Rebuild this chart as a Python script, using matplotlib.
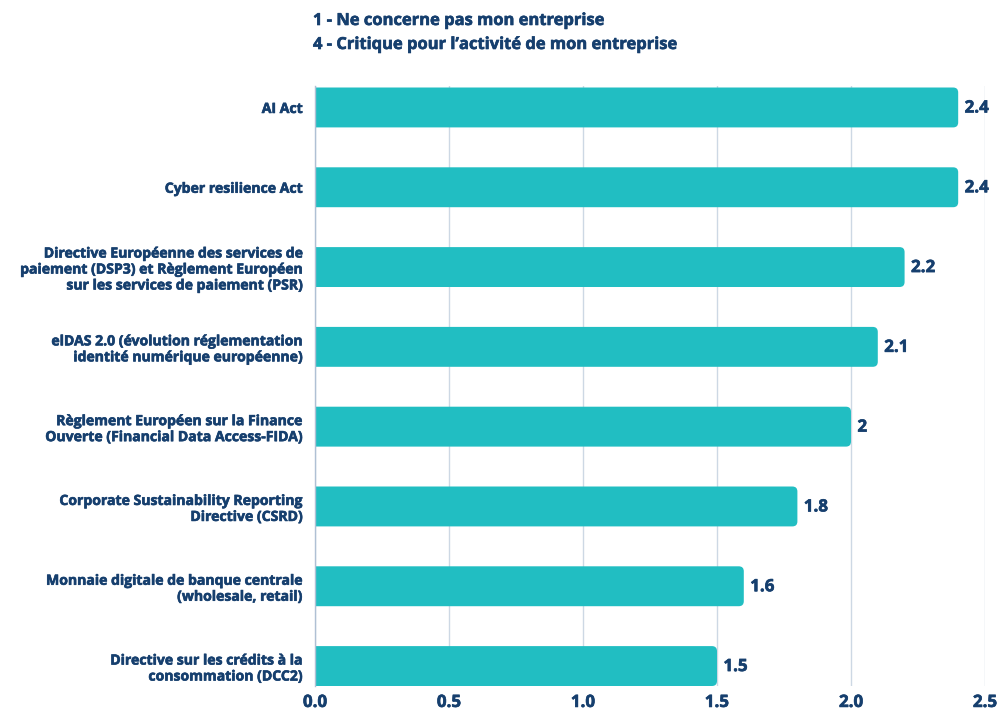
import matplotlib
matplotlib.use("Agg")
import matplotlib.pyplot as plt
import matplotlib.patheffects as pe
from matplotlib.patches import FancyBboxPatch

categories = [
    "AI Act",
    "Cyber resilience Act",
    "Directive Européenne des services de\npaiement (DSP3) et Règlement Européen\nsur les services de paiement (PSR)",
    "elDAS 2.0 (évolution réglementation\nidentité numérique européenne)",
    "Règlement Européen sur la Finance\nOuverte (Financial Data Access-FIDA)",
    "Corporate Sustainability Reporting\nDirective (CSRD)",
    "Monnaie digitale de banque centrale\n(wholesale, retail)",
    "Directive sur les crédits à la\nconsommation (DCC2)",
]
values = [2.4, 2.4, 2.2, 2.1, 2.0, 1.8, 1.6, 1.5]
x_ticks = [0.0, 0.5, 1.0, 1.5, 2.0, 2.5]
title_lines = ["1 - Ne concerne pas mon entreprise",
               "4 - Critique pour l\u2019activité de mon entreprise"]

BAR = "#21BEC2"
NAVY = "#163F6E"
GRID = "#CDD8E4"

plt.rcParams["font.family"] = ["Open Sans", "DejaVu Sans"]
plt.rcParams["font.weight"] = "bold"

# slight stroke to give the text a heavier weight
heavy = [pe.withStroke(linewidth=0.45, foreground=NAVY)]

fig = plt.figure(figsize=(10.01, 7.10), dpi=100)
ax = fig.add_axes([0.3147, 0.0338, 0.6693, 0.8452])

ypos = list(range(len(categories)))
bars = ax.barh(ypos, values, height=0.5, color=BAR, zorder=2)

ax.set_xlim(0, 2.5)
ax.set_ylim(7.25, -0.27)

# Replace the plain rectangles with rounded ones (rounded corners in pixel space)
fig.canvas.draw()
px_x = ax.transData.transform((1, 0))[0] - ax.transData.transform((0, 0))[0]
px_y = abs(ax.transData.transform((0, 1))[1] - ax.transData.transform((0, 0))[1])
aspect = px_x / px_y
r = 5.0 / px_x
for b in bars:
    x0, y0, w, h = b.get_x(), b.get_y(), b.get_width(), b.get_height()
    b.set_visible(False)
    p = FancyBboxPatch((x0 - 0.05, y0), w + 0.05, h,
                       boxstyle=f"round,pad=0,rounding_size={r}",
                       mutation_aspect=aspect, facecolor=BAR, edgecolor="none",
                       zorder=2, clip_on=True)
    ax.add_patch(p)
    ax.text(x0 + w + 0.024, y0 + h / 2, f"{w:g}", va="center", ha="left",
            color=NAVY, fontsize=12.2, fontweight="bold", zorder=3,
            path_effects=heavy)

ax.set_yticks(ypos)
ax.set_yticklabels(categories, fontsize=10.1, fontweight="bold", color=NAVY,
                   linespacing=1.18, path_effects=heavy)
ax.set_xticks(x_ticks)
ax.set_xticklabels([f"{t:.1f}" for t in x_ticks], fontsize=12.2,
                   fontweight="bold", color=NAVY, path_effects=heavy)
ax.tick_params(axis="y", length=0, pad=9)
ax.tick_params(axis="x", length=0, pad=5)

ax.grid(axis="x", color=GRID, linewidth=1.0, zorder=0)
for s in ["top", "right", "bottom"]:
    ax.spines[s].set_visible(False)
ax.spines["left"].set_color("#AFC0D4")
ax.spines["left"].set_linewidth(1.0)
ax.spines["left"].set_zorder(3)

fig.text(313 / 1001, 1 - 20 / 710, title_lines[0], fontsize=11.9,
         fontweight="bold", color=NAVY, va="center", ha="left",
         path_effects=heavy)
fig.text(313 / 1001, 1 - 44 / 710, title_lines[1], fontsize=11.9,
         fontweight="bold", color=NAVY, va="center", ha="left",
         path_effects=heavy)

fig.savefig("out.png", dpi=100, facecolor="white")
